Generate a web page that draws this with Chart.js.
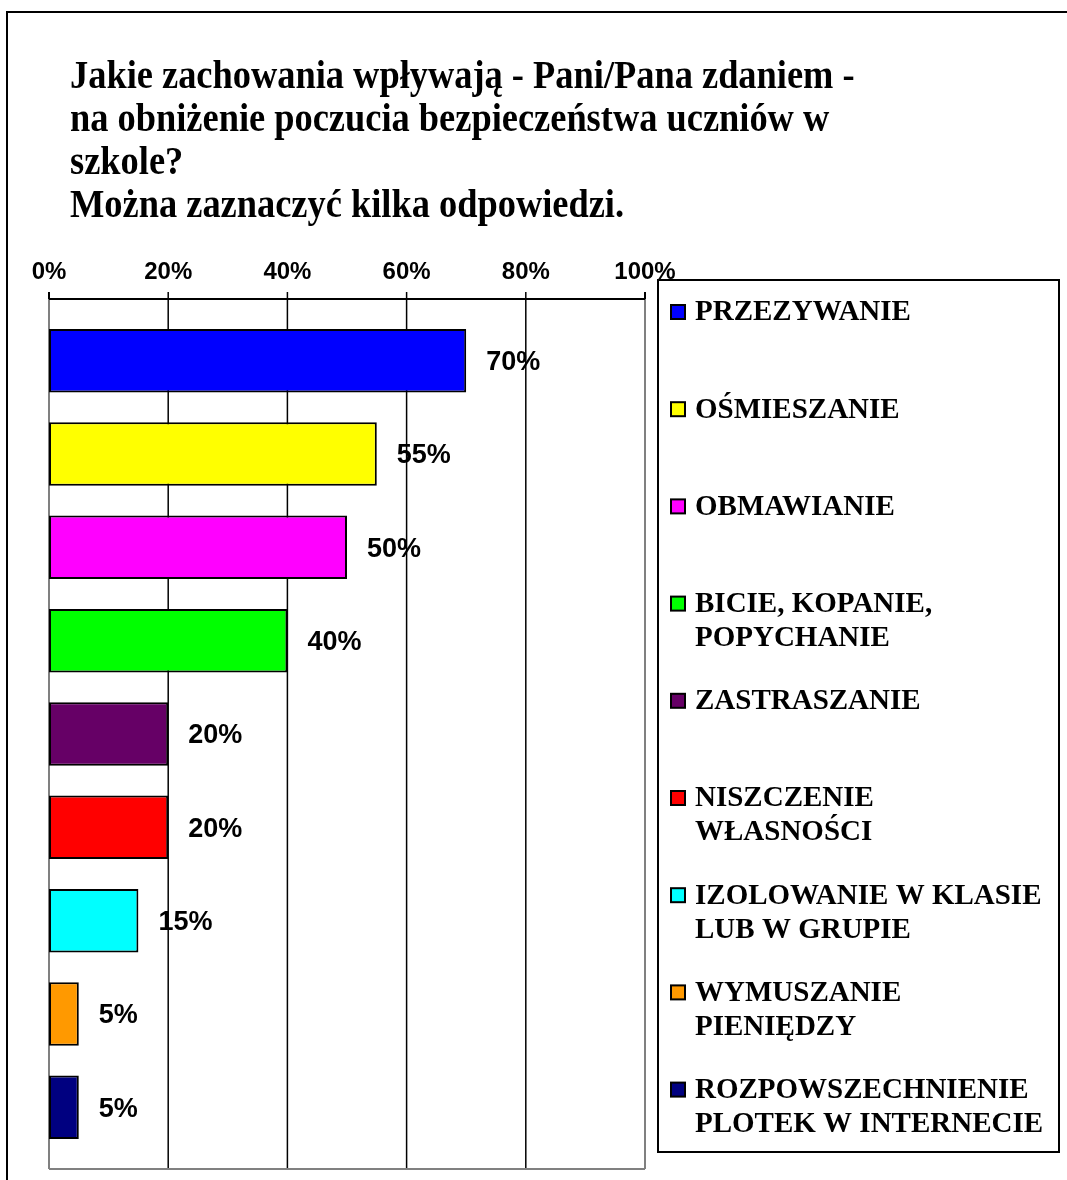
<!DOCTYPE html>
<html>
<head>
<meta charset="utf-8">
<script src="https://cdn.jsdelivr.net/npm/chart.js@4.4.1/dist/chart.umd.min.js"></script>
<style>
  body { margin: 0; background: #fff; }
  #wrap { width: 1067px; height: 1180px; }
</style>
</head>
<body>
<div id="wrap"><canvas id="myChart" width="1067" height="1180"></canvas></div>
<script>
// data
const titleLines = [
    'Jakie zachowania wpływają - Pani/Pana zdaniem -',
    'na obniżenie poczucia bezpieczeństwa uczniów w',
    'szkole?',
    'Można zaznaczyć kilka odpowiedzi.'
];
const categories = [
    ['PRZEZYWANIE'],
    ['OŚMIESZANIE'],
    ['OBMAWIANIE'],
    ['BICIE, KOPANIE,', 'POPYCHANIE'],
    ['ZASTRASZANIE'],
    ['NISZCZENIE', 'WŁASNOŚCI'],
    ['IZOLOWANIE W KLASIE', 'LUB W GRUPIE'],
    ['WYMUSZANIE', 'PIENIĘDZY'],
    ['ROZPOWSZECHNIENIE', 'PLOTEK W INTERNECIE']
];
const values = [70, 55, 50, 40, 20, 20, 15, 5, 5];
const barColors = ['#0000FF', '#FFFF00', '#FF00FF', '#00FF00', '#660066',
                   '#FF0000', '#00FFFF', '#FF9900', '#000080'];
const tickValues = [0, 20, 40, 60, 80, 100];

const sansBold = 'bold 27px "Liberation Sans", Arial, sans-serif';
const serifBold = '"Liberation Serif", "Times New Roman", serif';

// frame, title, grid and legend box drawn around the chart
const decor = {
    id: 'decor',
    beforeDatasetsDraw(chart) {
        const ctx = chart.ctx;
        const x = chart.scales.x;
        const area = chart.chartArea;
        const axisY = area.top - 15;
        const bottomY = area.bottom + 15;
        ctx.save();
        tickValues.forEach(v => {
            const px = x.getPixelForValue(v);
            const edge = (v === 0 || v === 100);
            ctx.strokeStyle = edge ? '#808080' : '#000';
            ctx.lineWidth = edge ? 2 : 1.5;
            ctx.beginPath();
            ctx.moveTo(px, axisY);
            ctx.lineTo(px, bottomY);
            ctx.stroke();
            // tick mark above the axis
            ctx.strokeStyle = '#000';
            ctx.beginPath();
            ctx.moveTo(px, axisY - 7);
            ctx.lineTo(px, axisY);
            ctx.stroke();
        });
        ctx.strokeStyle = '#000';
        ctx.lineWidth = 2;
        ctx.beginPath();
        ctx.moveTo(x.getPixelForValue(0), axisY);
        ctx.lineTo(x.getPixelForValue(100), axisY);
        ctx.stroke();
        ctx.strokeStyle = '#808080';
        ctx.beginPath();
        ctx.moveTo(x.getPixelForValue(0), bottomY);
        ctx.lineTo(x.getPixelForValue(100), bottomY);
        ctx.stroke();
        ctx.restore();
    },
    afterDraw(chart) {
        const ctx = chart.ctx;
        ctx.save();
        // outer frame
        ctx.strokeStyle = '#000';
        ctx.lineWidth = 2;
        ctx.strokeRect(7, 12, 1100, 1200);

        // title, a little condensed like the original
        ctx.fillStyle = '#000';
        ctx.font = 'bold 40px ' + serifBold;
        ctx.textAlign = 'left';
        ctx.textBaseline = 'alphabetic';
        titleLines.forEach((line, i) => {
            ctx.save();
            ctx.translate(70, 88 + i * 43);
            ctx.scale(0.91, 1);
            ctx.fillText(line, 0, 0);
            ctx.restore();
        });

        // legend
        ctx.lineWidth = 2;
        ctx.strokeRect(658, 280, 401, 872);
        ctx.font = 'bold 29px ' + serifBold;
        ctx.textBaseline = 'middle';
        categories.forEach((lines, i) => {
            const y = 312 + i * 97.2;
            ctx.fillStyle = barColors[i];
            ctx.fillRect(671, y - 7, 14, 14);
            ctx.lineWidth = 2;
            ctx.strokeRect(671, y - 7, 14, 14);
            ctx.fillStyle = '#000';
            lines.forEach((t, j) => ctx.fillText(t, 695, y + 1 + j * 34));
        });
        ctx.restore();
    }
};

// value labels to the right of each bar
const valueLabels = {
    id: 'valueLabels',
    afterDatasetsDraw(chart) {
        const ctx = chart.ctx;
        const meta = chart.getDatasetMeta(0);
        ctx.save();
        ctx.font = sansBold;
        ctx.fillStyle = '#000';
        ctx.textAlign = 'left';
        ctx.textBaseline = 'middle';
        meta.data.forEach((bar, i) => {
            ctx.fillText(values[i] + '%', bar.x + 20, bar.y + 2);
        });
        ctx.restore();
    }
};

const ctx = document.getElementById('myChart');

new Chart(ctx, {
    type: 'bar',
    data: {
        labels: categories,
        datasets: [{
            data: values,
            backgroundColor: barColors,
            borderColor: '#000',
            borderWidth: 2,
            borderSkipped: false,
            categoryPercentage: 1,
            barPercentage: 0.68
        }]
    },
    options: {
        indexAxis: 'y',
        responsive: false,
        animation: false,
        events: [],
        layout: {
            padding: { left: 49, right: 422, top: 250, bottom: 26 }
        },
        scales: {
            x: {
                position: 'top',
                min: 0,
                max: 100,
                afterBuildTicks: axis => {
                    axis.ticks = tickValues.map(v => ({ value: v }));
                },
                afterFit: axis => { axis.height = 64; },
                grid: { display: false, drawTicks: false },
                border: { display: false },
                ticks: {
                    padding: 27,
                    color: '#000',
                    font: { family: '"Liberation Sans", Arial, sans-serif', size: 24, weight: 'bold' },
                    callback: v => v + '%'
                }
            },
            y: { display: false }
        },
        plugins: {
            legend: { display: false },
            tooltip: { enabled: false }
        }
    },
    plugins: [decor, valueLabels]
});
</script>
</body>
</html>
